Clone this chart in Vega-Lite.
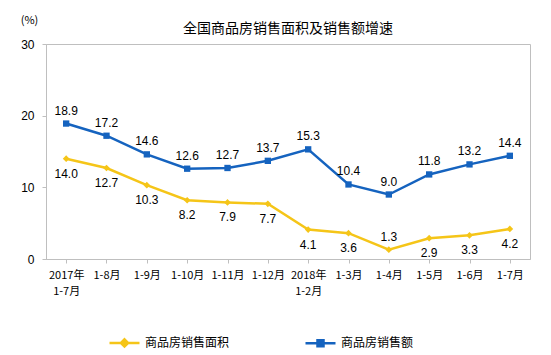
{
  "$schema": "https://vega.github.io/schema/vega-lite/v6.json",
  "autosize": {"type": "none"},
  "width": 484,
  "height": 215,
  "padding": {"left": 46, "top": 44, "right": 21, "bottom": 96},
  "title": {"text": "全国商品房销售面积及销售额增速", "font": "Noto Sans CJK SC", "fontSize": 14, "fontWeight": "normal", "color": "#000000", "anchor": "middle", "offset": -22},
  "config": {
    "view": {"stroke": "#bfbfbf", "strokeWidth": 1},
    "font": "Liberation Sans"
  },
  "data": {"values": [
    {"month": "2017年\n1-7月", "series": "商品房销售面积", "value": 14.0},
    {"month": "1-8月", "series": "商品房销售面积", "value": 12.7},
    {"month": "1-9月", "series": "商品房销售面积", "value": 10.3},
    {"month": "1-10月", "series": "商品房销售面积", "value": 8.2},
    {"month": "1-11月", "series": "商品房销售面积", "value": 7.9},
    {"month": "1-12月", "series": "商品房销售面积", "value": 7.7},
    {"month": "2018年\n1-2月", "series": "商品房销售面积", "value": 4.1},
    {"month": "1-3月", "series": "商品房销售面积", "value": 3.6},
    {"month": "1-4月", "series": "商品房销售面积", "value": 1.3},
    {"month": "1-5月", "series": "商品房销售面积", "value": 2.9},
    {"month": "1-6月", "series": "商品房销售面积", "value": 3.3},
    {"month": "1-7月", "series": "商品房销售面积", "value": 4.2},
    {"month": "2017年\n1-7月", "series": "商品房销售额", "value": 18.9},
    {"month": "1-8月", "series": "商品房销售额", "value": 17.2},
    {"month": "1-9月", "series": "商品房销售额", "value": 14.6},
    {"month": "1-10月", "series": "商品房销售额", "value": 12.6},
    {"month": "1-11月", "series": "商品房销售额", "value": 12.7},
    {"month": "1-12月", "series": "商品房销售额", "value": 13.7},
    {"month": "2018年\n1-2月", "series": "商品房销售额", "value": 15.3},
    {"month": "1-3月", "series": "商品房销售额", "value": 10.4},
    {"month": "1-4月", "series": "商品房销售额", "value": 9.0},
    {"month": "1-5月", "series": "商品房销售额", "value": 11.8},
    {"month": "1-6月", "series": "商品房销售额", "value": 13.2},
    {"month": "1-7月", "series": "商品房销售额", "value": 14.4}
  ]},
  "encoding": {
    "x": {
      "field": "month", "type": "nominal", "sort": null,
      "scale": {"paddingInner": 0, "paddingOuter": 0},
      "axis": {
        "title": null, "labelAngle": 0, "labelExpr": "split(datum.label, '\\n')",
        "labelFont": "Noto Sans CJK SC", "labelFontSize": 11, "labelColor": "#000000",
        "domainColor": "#bfbfbf", "tickColor": "#bfbfbf", "tickSize": 4,
        "bandPosition": 0, "labelPadding": 6, "labelLineHeight": 16, "labelBaseline": "top"
      }
    },
    "y": {
      "field": "value", "type": "quantitative",
      "scale": {"domain": [0, 30], "nice": false},
      "axis": {
        "values": [0, 10, 20, 30], "grid": false,
        "title": "(%)", "titleAngle": 0, "titleX": -17, "titleY": -24, "titleAlign": "center", "titleBaseline": "middle",
        "titleFont": "Noto Sans CJK SC", "titleFontSize": 11, "titleFontWeight": "normal", "titleColor": "#000000",
        "labelFont": "Liberation Sans", "labelFontSize": 12, "labelColor": "#000000", "labelPadding": 8,
        "domainColor": "#bfbfbf", "tickColor": "#bfbfbf", "tickSize": 4
      }
    }
  },
  "layer": [
    {
      "mark": {"type": "line", "strokeWidth": 2.5},
      "encoding": {
        "color": {
          "field": "series", "type": "nominal",
          "scale": {"domain": ["商品房销售面积", "商品房销售额"], "range": ["#F5C518", "#1563BF"]},
          "legend": {
            "title": null, "orient": "none", "legendX": 62, "legendY": 282, "direction": "horizontal",
            "columnPadding": 70, "symbolType": "M-1,0L1,0", "symbolSize": 900, "symbolStrokeWidth": 2.5,
            "labelFont": "Noto Sans CJK SC", "labelFontSize": 12, "labelColor": "#000000", "labelOffset": 4,
            "encode": {"symbols": {"update": {
              "fill": {"scale": "color", "field": "value"},
              "shape": {"signal": "datum.value === '商品房销售额' ? 'M-1,0L1,0M-0.2,-0.2L0.2,-0.2L0.2,0.2L-0.2,0.2Z' : 'M-1,0L1,0M0,-0.24L0.24,0L0,0.24L-0.24,0Z'"}
            }}}
          }
        }
      }
    },
    {
      "transform": [{"filter": "datum.series === '商品房销售面积'"}],
      "mark": {"type": "point", "shape": "diamond", "filled": true, "opacity": 1, "size": 45, "color": "#F5C518"}
    },
    {
      "transform": [{"filter": "datum.series === '商品房销售额'"}],
      "mark": {"type": "point", "shape": "square", "filled": true, "opacity": 1, "size": 40, "color": "#1563BF"}
    },
    {
      "transform": [{"filter": "datum.series === '商品房销售额' || datum.value < 2"}],
      "mark": {"type": "text", "dy": -13, "fontSize": 12, "font": "Liberation Sans", "color": "#000000"},
      "encoding": {"text": {"field": "value", "type": "quantitative", "format": ".1f"}}
    },
    {
      "transform": [{"filter": "datum.series === '商品房销售面积' && datum.value >= 2"}],
      "mark": {"type": "text", "dy": 15, "fontSize": 12, "font": "Liberation Sans", "color": "#000000"},
      "encoding": {"text": {"field": "value", "type": "quantitative", "format": ".1f"}}
    }
  ]
}
